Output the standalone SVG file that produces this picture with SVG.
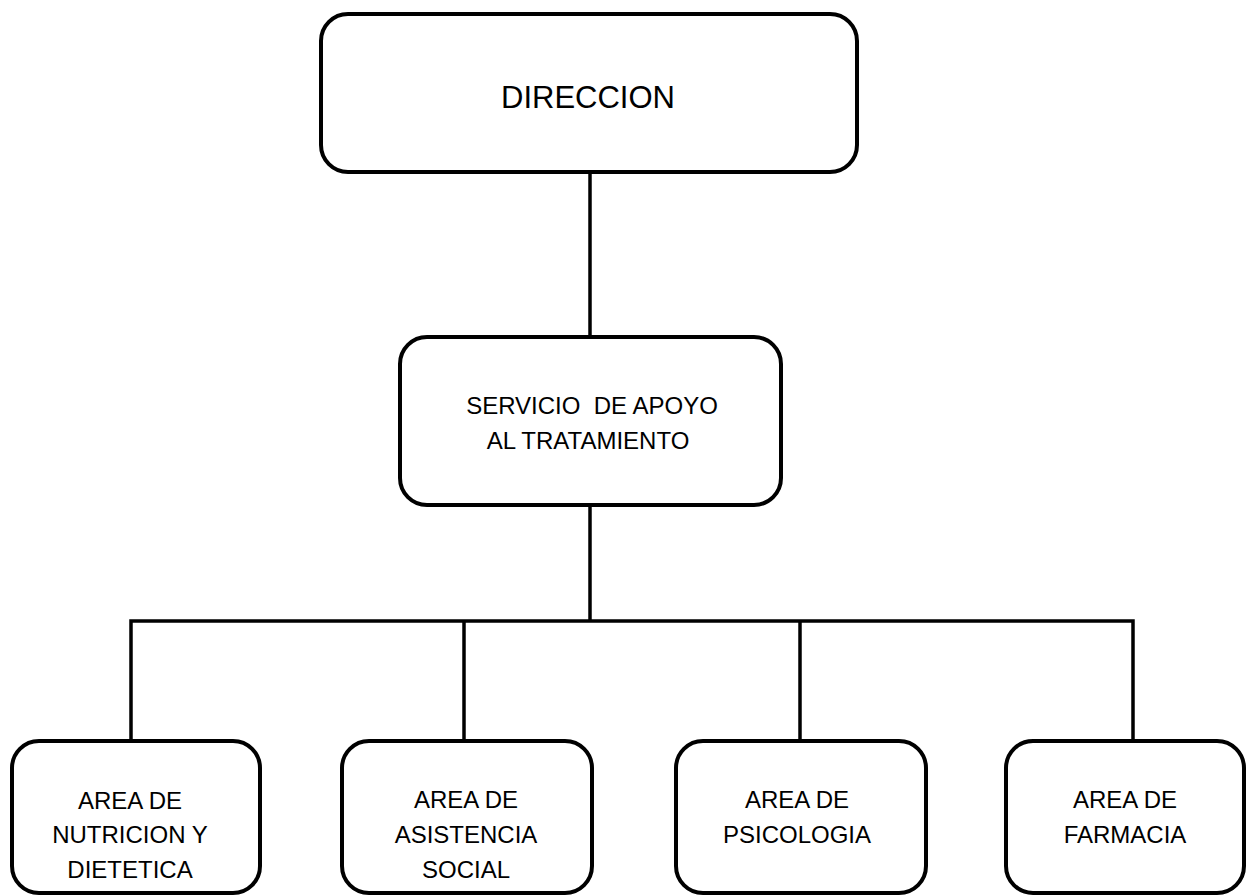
<svg xmlns="http://www.w3.org/2000/svg" width="1248" height="896" viewBox="0 0 1248 896">
<style>
.box{fill:#fff;stroke:#000;stroke-width:4}
.ln{fill:none;stroke:#000;stroke-width:3.5}
text{font-family:"Liberation Sans",Arial,sans-serif;fill:#000;text-anchor:middle;white-space:pre}
.t1{font-size:31px}
.t2{font-size:24px}
</style>
<rect width="1248" height="896" fill="#fff"/>
<g id="connectors">
<path class="ln" d="M590 172V337"/>
<path class="ln" d="M590 505V621"/>
<path class="ln" d="M131 741V621H1133V741"/>
<path class="ln" d="M464 621V741"/>
<path class="ln" d="M800 621V741"/>
</g>
<g id="direccion">
<rect class="box" x="321" y="14" width="536" height="158" rx="27"/>
<text class="t1" x="588" y="108">DIRECCION</text>
</g>
<g id="servicio">
<rect class="box" x="400" y="337" width="381" height="168" rx="27"/>
<text class="t2" x="592" y="414">SERVICIO  DE APOYO</text>
<text class="t2" x="588" y="449">AL TRATAMIENTO</text>
</g>
<g id="nutricion">
<rect class="box" x="12" y="741" width="248" height="152" rx="27"/>
<text class="t2" x="130" y="809">AREA DE</text>
<text class="t2" x="130" y="843">NUTRICION Y</text>
<text class="t2" x="130" y="878">DIETETICA</text>
</g>
<g id="asistencia">
<rect class="box" x="342" y="741" width="250" height="152" rx="27"/>
<text class="t2" x="466" y="808">AREA DE</text>
<text class="t2" x="466" y="843">ASISTENCIA</text>
<text class="t2" x="466" y="878">SOCIAL</text>
</g>
<g id="psicologia">
<rect class="box" x="676" y="741" width="250" height="152" rx="27"/>
<text class="t2" x="797" y="808">AREA DE</text>
<text class="t2" x="797" y="843">PSICOLOGIA</text>
</g>
<g id="farmacia">
<rect class="box" x="1006" y="741" width="238" height="152" rx="27"/>
<text class="t2" x="1125" y="808">AREA DE</text>
<text class="t2" x="1125" y="843">FARMACIA</text>
</g>
</svg>
